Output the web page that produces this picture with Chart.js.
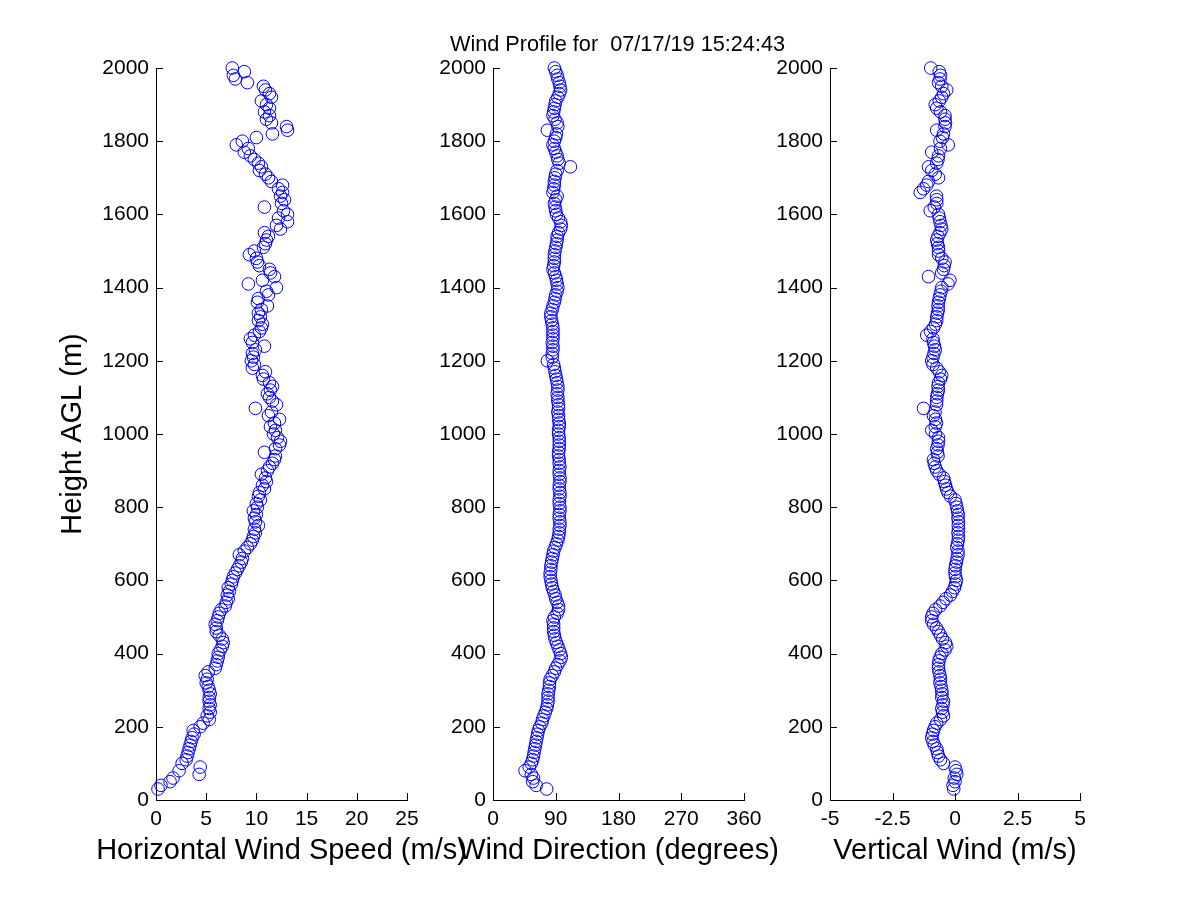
<!DOCTYPE html>
<html><head><meta charset="utf-8">
<script src="https://cdn.jsdelivr.net/npm/chart.js@4.4.1/dist/chart.umd.min.js"></script>
<style>
html,body{margin:0;padding:0;background:#fff;}
#wrap{position:relative;width:1200px;height:900px;overflow:hidden;background:#fff;}
canvas{position:absolute;left:0;top:0;}
#title{position:absolute;left:417.5px;width:400px;top:32px;text-align:center;font:21.7px/24px "Liberation Sans",Arial,sans-serif;white-space:pre;color:#000;}
</style></head><body>
<div id="wrap">
<canvas id="c1" width="1200" height="900"></canvas>
<canvas id="c2" width="1200" height="900"></canvas>
<canvas id="c3" width="1200" height="900"></canvas>
<div id="title"></div>
</div>
<script>
const chartTitle = 'Wind Profile for  07/17/19 15:24:43';
const yTitle = 'Height AGL (m)';
const xTitles = ['Horizontal Wind Speed (m/s)', 'Wind Direction (degrees)', 'Vertical Wind (m/s)'];

const heightTicks = [0, 200, 400, 600, 800, 1000, 1200, 1400, 1600, 1800, 2000];
const speedTicks = [0, 5, 10, 15, 20, 25];
const directionTicks = [0, 90, 180, 270, 360];
const verticalTicks = [-5, -2.5, 0, 2.5, 5];

const heights = [
  30, 40, 50, 60, 70, 80, 90, 100, 110, 120,
  130, 140, 150, 160, 170, 180, 190, 200, 210, 220,
  230, 240, 250, 260, 270, 280, 290, 300, 310, 320,
  330, 340, 350, 360, 370, 380, 390, 400, 410, 420,
  430, 440, 450, 460, 470, 480, 490, 500, 510, 520,
  530, 540, 550, 560, 570, 580, 590, 600, 610, 620,
  630, 640, 650, 660, 670, 680, 690, 700, 710, 720,
  730, 740, 750, 760, 770, 780, 790, 800, 810, 820,
  830, 840, 850, 860, 870, 880, 890, 900, 910, 920,
  930, 940, 950, 960, 970, 980, 990, 1000, 1010, 1020,
  1030, 1040, 1050, 1060, 1070, 1080, 1090, 1100, 1110, 1120,
  1130, 1140, 1150, 1160, 1170, 1180, 1190, 1200, 1210, 1220,
  1230, 1240, 1250, 1260, 1270, 1280, 1290, 1300, 1310, 1320,
  1330, 1340, 1350, 1360, 1370, 1380, 1390, 1400, 1410, 1420,
  1430, 1440, 1450, 1460, 1470, 1480, 1490, 1500, 1510, 1520,
  1530, 1540, 1550, 1560, 1570, 1580, 1590, 1600, 1610, 1620,
  1630, 1640, 1650, 1660, 1670, 1680, 1690, 1700, 1710, 1720,
  1730, 1740, 1750, 1760, 1770, 1780, 1790, 1800, 1810, 1820,
  1830, 1840, 1850, 1860, 1870, 1880, 1890, 1900, 1910, 1920,
  1930, 1940, 1950, 1960, 1970, 1980, 1990, 2000
];

const horizontalSpeed = [
  0.2, 0.5, 1.4, 1.7, 4.3, 2.3, 4.4, 2.6, 3.0, 3.1,
  3.2, 3.3, 3.4, 3.5, 3.6, 3.8, 3.7, 4.4, 4.7, 5.3,
  5.1, 5.4, 5.3, 5.4, 5.3, 5.3, 5.4, 5.3, 5.2, 5.0,
  5.1, 4.9, 5.2, 5.9, 6.0, 6.1, 6.2, 6.2, 6.4, 6.6,
  6.7, 6.6, 6.3, 6.0, 6.0, 5.9, 6.1, 6.2, 6.3, 6.5,
  6.9, 7.0, 7.2, 7.1, 7.3, 7.2, 7.5, 7.6, 7.7, 7.9,
  8.1, 8.3, 8.5, 8.6, 8.3, 8.8, 9.1, 9.4, 9.6, 9.7,
  9.9, 9.8, 10.2, 9.9, 9.8, 10.0, 9.7, 10.1, 10.0, 10.4,
  10.2, 10.3, 10.8, 10.6, 11.0, 10.9, 10.5, 11.1, 11.3, 11.6,
  11.8, 11.9, 10.8, 11.9, 12.3, 12.4, 12.1, 11.7, 11.9, 11.4,
  11.8, 12.3, 11.2, 11.5, 9.9, 12.0, 11.6, 11.3, 11.1, 11.4,
  11.6, 11.3, 10.7, 10.6, 10.9, 9.6, 9.8, 9.5, 9.7, 9.6,
  9.9, 10.8, 9.6, 9.4, 9.8, 10.3, 10.5, 10.6, 10.2, 10.4,
  10.2, 10.5, 11.1, 10.1, 10.2, 11.2, 11.0, 12.0, 9.2, 10.6,
  11.8, 11.4, 11.3, 10.3, 10.1, 10.0, 9.3, 9.8, 10.7, 10.9,
  11.0, 11.2, 10.8, 12.4, 12.0, 13.1, 12.2, 13.1, 12.7, 10.8,
  12.5, 12.8, 12.4, 12.6, 12.2, 12.6, 11.5, 11.2, 10.9, 10.3,
  10.5, 10.2, 9.8, 9.4, 8.8, 9.2, 8.0, 8.6, 10.0, 11.6,
  13.1, 13.0, 11.5, 11.0, 11.3, 10.8, 11.3, 11.0, 10.5, 11.5,
  11.3, 10.9, 10.7, 9.1, 7.9, 7.7, 8.8, 7.6
];

const windDirection = [
  77, 62, 57, 58, 55, 46, 52, 55, 57, 58,
  59, 60, 61, 62, 63, 64, 65, 67, 70, 71,
  73, 75, 77, 78, 79, 79, 79, 80, 81, 81,
  82, 85, 88, 90, 93, 96, 98, 97, 95, 93,
  91, 89, 88, 87, 87, 87, 86, 88, 92, 94,
  94, 92, 90, 89, 87, 85, 84, 83, 82, 82,
  83, 83, 84, 85, 86, 87, 89, 91, 93, 94,
  95, 95, 96, 96, 95, 95, 96, 96, 95, 95,
  96, 96, 95, 95, 96, 96, 95, 95, 96, 95,
  95, 94, 94, 95, 95, 95, 95, 94, 94, 95,
  95, 94, 94, 93, 94, 94, 93, 93, 92, 93,
  93, 92, 91, 90, 89, 88, 87, 78, 85, 85,
  86, 86, 85, 86, 86, 86, 86, 85, 84, 83,
  83, 85, 86, 88, 89, 90, 92, 93, 92, 91,
  90, 88, 86, 87, 88, 88, 88, 89, 90, 91,
  92, 92, 94, 97, 98, 97, 94, 91, 90, 89,
  88, 90, 92, 86, 87, 88, 88, 89, 90, 92,
  111, 95, 93, 92, 90, 88, 86, 88, 90, 91,
  78, 93, 92, 89, 86, 87, 88, 89, 90, 93,
  95, 97, 96, 95, 93, 92, 90, 88
];

const verticalWind = [
  -0.05, -0.08, 0.0, -0.03, 0.07, 0.04, 0.0, -0.46, -0.58, -0.66,
  -0.70, -0.73, -0.83, -0.88, -0.93, -0.90, -0.86, -0.80, -0.73, -0.58,
  -0.46, -0.50, -0.53, -0.48, -0.46, -0.53, -0.52, -0.53, -0.56, -0.60,
  -0.58, -0.60, -0.64, -0.66, -0.66, -0.64, -0.60, -0.53, -0.40, -0.33,
  -0.38, -0.50, -0.58, -0.66, -0.74, -0.86, -0.93, -0.93, -0.88, -0.78,
  -0.60, -0.48, -0.36, -0.18, -0.10, -0.02, 0.02, 0.06, 0.02, 0.0,
  0.0, 0.02, 0.06, 0.08, 0.12, 0.12, 0.07, 0.10, 0.13, 0.14,
  0.12, 0.14, 0.13, 0.14, 0.12, 0.13, 0.10, 0.07, 0.04, 0.0,
  -0.18, -0.28, -0.34, -0.38, -0.42, -0.46, -0.63, -0.73, -0.79, -0.83,
  -0.86, -0.68, -0.70, -0.73, -0.68, -0.66, -0.66, -0.78, -0.93, -0.79,
  -0.74, -0.78, -0.86, -0.80, -1.26, -0.74, -0.73, -0.73, -0.70, -0.66,
  -0.68, -0.66, -0.58, -0.53, -0.63, -0.73, -0.88, -0.93, -0.88, -0.84,
  -0.79, -0.82, -0.86, -0.88, -1.13, -0.98, -0.86, -0.78, -0.73, -0.73,
  -0.70, -0.66, -0.68, -0.66, -0.63, -0.60, -0.56, -0.53, -0.28, -0.20,
  -1.06, -0.53, -0.46, -0.43, -0.40, -0.53, -0.66, -0.66, -0.66, -0.70,
  -0.73, -0.68, -0.60, -0.53, -0.56, -0.60, -0.63, -0.66, -0.99, -0.83,
  -0.73, -0.73, -0.74, -1.39, -1.26, -1.13, -1.06, -0.66, -0.79, -0.93,
  -1.06, -0.73, -0.68, -0.66, -0.93, -0.58, -0.27, -0.60, -0.50, -0.46,
  -0.73, -0.40, -0.38, -0.40, -0.40, -0.58, -0.73, -0.79, -0.63, -0.53,
  -0.46, -0.33, -0.53, -0.66, -0.60, -0.58, -0.63, -0.97
];

document.getElementById('title').textContent = chartTitle;

const FONT = '"Liberation Sans", Arial, Helvetica, sans-serif';
Chart.defaults.font.family = FONT;
Chart.defaults.color = '#000';

const panels = [
  { id: 'c1', values: horizontalSpeed, xTicks: speedTicks, xTitle: xTitles[0], left: 156, right: 407, yw: 100, showYTitle: true },
  { id: 'c2', values: windDirection, xTicks: directionTicks, xTitle: xTitles[1], left: 493, right: 744, yw: 60, showYTitle: false },
  { id: 'c3', values: verticalWind, xTicks: verticalTicks, xTitle: xTitles[2], left: 830, right: 1080, yw: 60, showYTitle: false }
];

const matlabAxes = {
  id: 'matlabAxes',
  afterDraw(chart, args, opts) {
    const ctx = chart.ctx, a = chart.chartArea;
    const xs = chart.scales.x, ys = chart.scales.y;
    ctx.save();
    ctx.strokeStyle = '#000';
    ctx.lineWidth = 1;
    ctx.beginPath();
    xs.ticks.forEach(t => {
      const px = Math.round(xs.getPixelForValue(t.value)) + 0.5;
      ctx.moveTo(px, a.bottom);
      ctx.lineTo(px, a.bottom - 7);
    });
    ys.ticks.forEach(t => {
      const py = Math.round(ys.getPixelForValue(t.value)) + 0.5;
      ctx.moveTo(a.left, py);
      ctx.lineTo(a.left + 7, py);
    });
    ctx.stroke();
    ctx.fillStyle = '#000';
    ctx.font = '29px ' + FONT;
    ctx.textAlign = 'center';
    ctx.textBaseline = 'alphabetic';
    ctx.fillText(opts.xTitle, (a.left + a.right) / 2, a.bottom + 59);
    ctx.restore();
  }
};

panels.forEach(p => {
  new Chart(document.getElementById(p.id), {
    type: 'scatter',
    data: {
      datasets: [{
        data: heights.map((h, i) => ({ x: p.values[i], y: h })),
        showLine: false,
        pointStyle: 'circle',
        pointRadius: 6.3,
        pointHoverRadius: 6.3,
        pointBorderWidth: 1,
        borderColor: '#0000ff',
        pointBorderColor: '#0000ff',
        backgroundColor: 'rgba(0,0,0,0)',
        pointBackgroundColor: 'rgba(0,0,0,0)',
        clip: false
      }]
    },
    options: {
      responsive: false,
      animation: false,
      devicePixelRatio: 1,
      events: [],
      layout: { padding: { left: p.left - p.yw, right: 1200 - p.right, top: 68, bottom: 0 } },
      plugins: {
        legend: { display: false },
        tooltip: { enabled: false },
        title: { display: false },
        matlabAxes: { xTitle: p.xTitle }
      },
      scales: {
        x: {
          type: 'linear',
          position: 'bottom',
          min: p.xTicks[0],
          max: p.xTicks[p.xTicks.length - 1],
          afterBuildTicks: s => { s.ticks = p.xTicks.map(v => ({ value: v })); },
          afterFit: s => { s.height = 100; },
          grid: { display: false, drawTicks: false },
          border: { display: true, color: '#000', width: 1 },
          ticks: { autoSkip: false, maxRotation: 0, padding: 7, color: '#000', font: { size: 21 }, callback: v => String(v) },
          title: { display: false }
        },
        y: {
          type: 'linear',
          position: 'left',
          min: heightTicks[0],
          max: heightTicks[heightTicks.length - 1],
          afterBuildTicks: s => { s.ticks = heightTicks.map(v => ({ value: v })); },
          afterFit: s => { s.width = p.yw; },
          grid: { display: false, drawTicks: false },
          border: { display: true, color: '#000', width: 1 },
          ticks: { autoSkip: false, padding: 7, color: '#000', font: { size: 21 }, callback: v => String(v) },
          title: { display: p.showYTitle, text: yTitle, color: '#000', font: { size: 29 }, padding: 0 }
        }
      }
    },
    plugins: [matlabAxes]
  });
});
</script>
</body></html>
